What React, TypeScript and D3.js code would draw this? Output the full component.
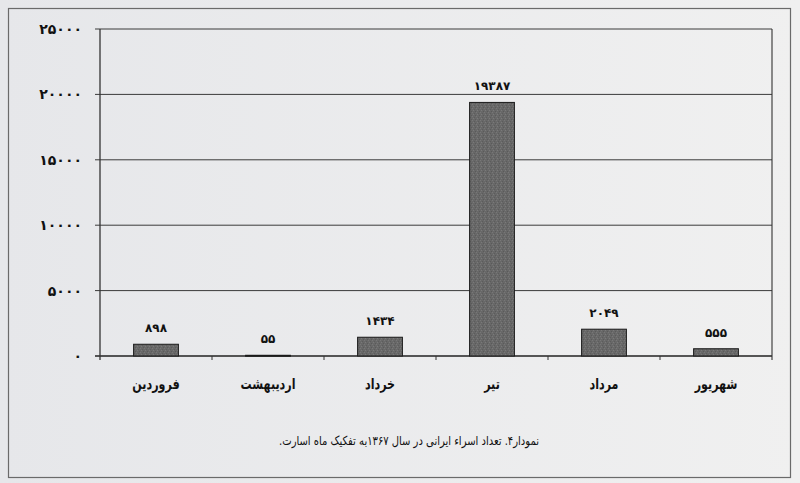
import React from "react";
import * as d3 from "d3";

const categories = ["فروردین", "اردیبهشت", "خرداد", "تیر", "مرداد", "شهریور"];
const values = [898, 55, 1434, 19387, 2049, 555];
const yTicks = [0, 5000, 10000, 15000, 20000, 25000];
const caption = "نمودار۴. تعداد اسراء ایرانی در سال ۱۳۶۷به تفکیک ماه اسارت.";

const faDigits = "۰۱۲۳۴۵۶۷۸۹";
const toFa = (n: number) => String(n).replace(/[0-9]/g, (d) => faDigits[+d]);

const W = 800;
const H = 483;
const left = 100;
const right = 772;
const top = 29;
const bottom = 356;
const font = "'DejaVu Sans', sans-serif";

export default function App() {
  const x = d3.scaleBand<string>().domain(categories).range([left, right]).paddingInner(0).paddingOuter(0);
  const y = d3.scaleLinear().domain([0, 25000]).range([bottom, top]);
  const bw = x.bandwidth() * 0.4;

  return (
    <svg
      width={W}
      height={H}
      style={{ position: "absolute", left: 0, top: 0, display: "block" }}
    >
      <defs>
        <pattern id="noise" width="4" height="4" patternUnits="userSpaceOnUse">
          <rect width="4" height="4" fill="#686868" />
          <rect x="0" y="0" width="1" height="1" fill="#777" />
          <rect x="2" y="1" width="1" height="1" fill="#5c5c5c" />
          <rect x="1" y="2" width="1" height="1" fill="#7a7a7a" />
          <rect x="3" y="3" width="1" height="1" fill="#5a5a5a" />
        </pattern>
        <linearGradient id="bg" x1="0" x2="1" y1="0" y2="0">
          <stop offset="0" stopColor="#e6e7ea" />
          <stop offset="1" stopColor="#f0f0f0" />
        </linearGradient>
      </defs>
      <rect width={W} height={H} fill="url(#bg)" />
      <rect x={8.5} y={8.5} width={782} height={469} fill="none" stroke="#6a6a6a" strokeWidth={1.2} />

      {yTicks.map((t) => (
        <g key={t}>
          <line x1={95} x2={right} y1={y(t)} y2={y(t)} stroke={t === 0 ? "#222" : "#3a3a3a"} strokeWidth={t === 0 ? 1.4 : 1} />
          <text
            x={82}
            y={y(t) + 5}
            textAnchor="end"
            fontFamily={font}
            fontSize={14}
            fontWeight="bold"
            fill="#111"
          >
            {toFa(t)}
          </text>
        </g>
      ))}
      <line x1={left} x2={left} y1={top} y2={bottom + 4} stroke="#333" strokeWidth={1.3} />
      <line x1={right} x2={right} y1={top} y2={bottom + 4} stroke="#333" strokeWidth={1.1} />

      {categories.slice(1).map((c) => (
        <line key={c} x1={x(c)!} x2={x(c)!} y1={bottom} y2={bottom + 4} stroke="#333" strokeWidth={1} />
      ))}

      {categories.map((c, i) => {
        const cx = x(c)! + x.bandwidth() / 2;
        const yv = y(values[i]);
        return (
          <g key={c}>
            <rect
              x={cx - bw / 2}
              y={yv}
              width={bw}
              height={Math.max(bottom - yv, 1)}
              fill="url(#noise)"
              stroke="#1a1a1a"
              strokeWidth={1}
            />
            <text
              x={cx}
              y={yv - 12}
              textAnchor="middle"
              fontFamily={font}
              fontSize={12}
              fontWeight="bold"
              fill="#111"
            >
              {toFa(values[i])}
            </text>
            <text
              transform={`translate(${cx},389) scale(0.74,1)`}
              textAnchor="middle"
              fontFamily={font}
              fontSize={15}
              fontWeight="bold"
              fill="#111"
              direction="rtl"
            >
              {c}
            </text>
          </g>
        );
      })}

      <text
        transform="translate(409,445) scale(0.8,1)"
        textAnchor="middle"
        fontFamily={font}
        fontSize={12.5}
        fill="#111"
        direction="rtl"
      >
        {caption}
      </text>
    </svg>
  );
}
